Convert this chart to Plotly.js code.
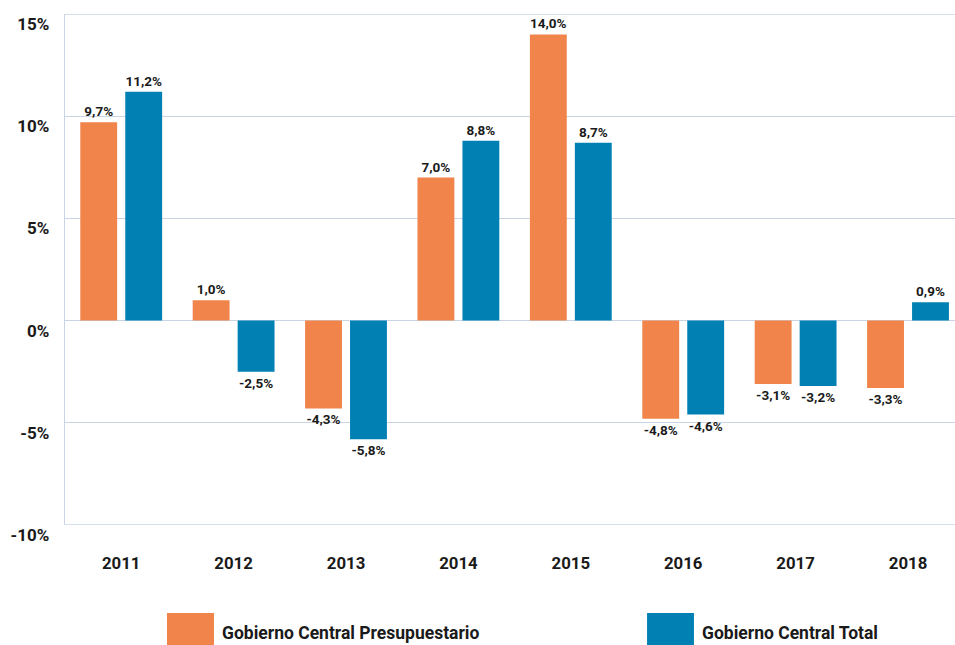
<!DOCTYPE html>
<html><head><meta charset="utf-8">
<script src="https://cdn.plot.ly/plotly-3.0.1.min.js"></script>
<style>html,body{margin:0;padding:0;background:#fff;overflow:hidden}#chart{width:955px;height:645px}</style>
</head><body><div id="chart"></div>
<script>
const years = ['2011','2012','2013','2014','2015','2016','2017','2018'];
const seriesNames = ['Gobierno Central Presupuestario','Gobierno Central Total'];
const presupuestario = [9.7, 1.0, -4.3, 7.0, 14.0, -4.8, -3.1, -3.3];
const total = [11.2, -2.5, -5.8, 8.8, 8.7, -4.6, -3.2, 0.9];
const colors = ['#F0844A', '#0080B3'];
const yTicks = [-10, -5, 0, 5, 10, 15];
const yTickText = ['-10%', '-5%', '0%', '5%', '10%', '15%'];

const fmt = v => v.toFixed(1).replace('.', ',') + '%';
const fontFam = 'Roboto, "DejaVu Sans", sans-serif';
const grid = '#c9d5e4';

function mk(vals, i){
  return {type:'bar', x:years, y:vals, name:seriesNames[i],
    marker:{color:colors[i]}, text:vals.map(fmt), textposition:'outside',
    textfont:{family:fontFam, size:13.5, color:'#1a1a1a', weight:700},
    cliponaxis:false, hoverinfo:'skip', showlegend:false};
}
const data = [mk(presupuestario,0), mk(total,1)];

const legX = [[0.1146,0.1674],[0.654,0.7067]];
const shapes = legX.map((xx,i)=>({type:'rect', xref:'paper', yref:'paper',
  x0:xx[0], x1:xx[1], y0:-0.235, y1:-0.172, fillcolor:colors[i], line:{width:0}}));
const annotations = legX.map((xx,i)=>({xref:'paper', yref:'paper', x:xx[1]+0.007, y:-0.212,
  xanchor:'left', yanchor:'middle', showarrow:false, text:seriesNames[i],
  font:{family:fontFam, size:17.5, color:'#1a1a1a', weight:700}}));

const layout = {
  width:955, height:645, margin:{l:65, r:0, t:14, b:120},
  paper_bgcolor:'#fff', plot_bgcolor:'#fff',
  barmode:'group', bargap:0.2, bargroupgap:0.18,
  font:{family:fontFam, color:'#1a1a1a'},
  xaxis:{type:'category', range:[-0.5, 7.418], showgrid:false, showline:false, ticks:'',
    tickfont:{family:fontFam, size:16.8, weight:700, color:'#1a1a1a'}, ticklabelstandoff:26, fixedrange:true},
  yaxis:{range:[-10,15], tickvals:yTicks, ticktext:yTickText, showgrid:true, gridcolor:grid, gridwidth:1.3,
    zeroline:true, zerolinecolor:grid, zerolinewidth:1.3,
    showline:true, linecolor:grid, linewidth:1.3, ticks:'',
    tickfont:{family:fontFam, size:17, weight:700, color:'#1a1a1a'}, ticklabelstandoff:11, ticklabelshift:10, fixedrange:true},
  shapes: shapes.concat([
    {type:'line', xref:'paper', yref:'y', x0:0, x1:1, y0:-10, y1:-10, line:{color:grid, width:1.3}},
    {type:'line', xref:'paper', yref:'y', x0:0, x1:1, y0:15, y1:15, line:{color:grid, width:1.3}}]),
  annotations: annotations,
  showlegend:false
};
Plotly.newPlot('chart', data, layout, {displayModeBar:false, staticPlot:true});
</script></body></html>
